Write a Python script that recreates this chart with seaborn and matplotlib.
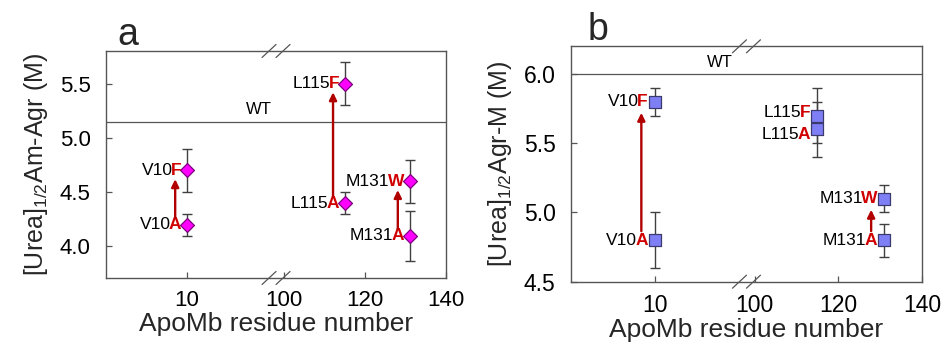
import numpy as np
import matplotlib
matplotlib.use("Agg")
import matplotlib.pyplot as plt
from matplotlib.lines import Line2D
import seaborn as sns
import pandas as pd

# ---------------- data ----------------
residues = [10, 10, 115, 115, 131, 131]
wild = ["V10", "V10", "L115", "L115", "M131", "M131"]
mutant = ["A", "F", "A", "F", "A", "W"]
am_agr = [4.2, 4.7, 4.4, 5.5, 4.1, 4.6]
am_agr_err = [0.1, 0.2, 0.1, 0.2, 0.23, 0.2]
agr_m = [4.8, 5.8, 5.6, 5.7, 4.8, 5.1]
agr_m_err = [0.2, 0.1, 0.2, 0.2, 0.12, 0.1]
wt_am_agr = 5.15
wt_agr_m = 6.0
arrows_a = ["V10", "L115", "M131"]
arrows_b = ["V10", "M131"]
xticks = [10, 100, 120, 140]
yticks_a = [4.0, 4.5, 5.0, 5.5]
yticks_b = [4.5, 5.0, 5.5, 6.0]

sns.set_theme(style="white")
plt.rcParams["font.family"] = ["Liberation Sans", "DejaVu Sans"]
plt.rcParams["mathtext.fontset"] = "custom"
plt.rcParams["mathtext.rm"] = "Liberation Sans"
plt.rcParams["mathtext.it"] = "Liberation Sans:italic"
plt.rcParams["mathtext.bf"] = "Liberation Sans:bold"

DPI = 100
fig = plt.figure(figsize=(9.45, 3.44), dpi=DPI)


# broken x axis: compress the 30..100 gap
def fwd(x):
    return np.interp(x, [-1000, 30, 100, 1000], [-1000, 30, 34, 934])


def inv(y):
    return np.interp(y, [-1000, 30, 34, 934], [-1000, 30, 100, 1000])


SPINE = "#555555"
ARROW = "#b00000"
RED = "#d00000"


def draw_break(ax):
    pos = ax.get_position()
    wpx = pos.width * fig.get_figwidth() * DPI
    hpx = pos.height * fig.get_figheight() * DPI
    dx, dy = 7 / wpx, 6.5 / hpx
    for yy in (0.0, 1.0):
        for cx in (0.5 - 7 / wpx, 0.5 + 7 / wpx):
            ax.add_line(Line2D([cx - dx, cx + dx], [yy - dy, yy + dy],
                               transform=ax.transAxes, color=SPINE, lw=0.9,
                               clip_on=False, zorder=5))


def panel(rect, vals, errs, wt, yticks, ylim, marker, fc, ec, ms, ylabel,
          tick_fs, wt_x, letter, letter_xy, label_off, label_dy, arrows,
          ylabel_fs, xlabel_fs):
    ax = fig.add_axes(rect)
    ax.set_xscale("function", functions=(fwd, inv))
    df = pd.DataFrame({"residue": residues, "value": vals})
    ax.errorbar(residues, vals, yerr=errs, fmt="none", ecolor="#404040",
                elinewidth=1, capsize=3.5, capthick=1, zorder=2)
    sns.scatterplot(data=df, x="residue", y="value", marker=marker, s=ms,
                    color=fc, edgecolor=ec, linewidth=0.9, ax=ax, zorder=3,
                    legend=False)
    ax.axhline(wt, color=SPINE, lw=0.9, zorder=1)
    ax.annotate("WT", xy=(wt_x, wt), xycoords=("axes fraction", "data"),
                xytext=(0, 3), textcoords="offset points", ha="center",
                va="bottom", fontsize=12, color="black")
    reds = []
    for x, y, w, m, dy in zip(residues, vals, wild, mutant, label_dy):
        r = ax.annotate(m, xy=(x, y), xytext=(label_off, dy),
                        textcoords="offset points", ha="right", va="center",
                        color=RED, fontweight="bold", fontsize=12.5)
        ax.annotate(w, xy=(0, 0.5), xycoords=r, xytext=(1.2, 0),
                    textcoords="offset points", ha="right", va="center",
                    fontsize=12.5, color="black")
        reds.append(r)
    # arrows from the A mutant to the other mutant at the same residue
    for i in range(0, len(residues), 2):
        if wild[i] not in arrows:
            continue
        lo, hi = vals[i], vals[i + 1]
        ax.annotate("", xy=(0.5, hi - 0.08), xycoords=(reds[i], "data"),
                    xytext=(0.5, lo + 0.065), textcoords=(reds[i], "data"),
                    arrowprops=dict(arrowstyle="-|>,head_length=0.45,head_width=0.22",
                                    color=ARROW, lw=1.7, mutation_scale=10,
                                    shrinkA=0, shrinkB=0))
    ax.set_xlim(-10, 140)
    ax.set_ylim(*ylim)
    ax.set_xticks(xticks)
    ax.set_xticklabels([str(t) for t in xticks], fontsize=tick_fs)
    ax.xaxis.set_minor_locator(matplotlib.ticker.NullLocator())
    ax.set_yticks(yticks)
    ax.set_yticklabels([f"{t:.1f}" for t in yticks], fontsize=tick_fs)
    ax.tick_params(axis="both", direction="in", length=4, width=0.9,
                   color=SPINE, pad=11, labelcolor="black")
    ax.tick_params(axis="x", bottom=True, pad=9)
    ax.tick_params(axis="y", left=True)
    for s in ax.spines.values():
        s.set_color(SPINE)
        s.set_linewidth(1.0)
        s.set_visible(True)
    ax.set_xlabel("ApoMb residue number", fontsize=xlabel_fs, labelpad=0.5)
    ax.set_ylabel(ylabel, fontsize=ylabel_fs, labelpad=7)
    ax.grid(False)
    draw_break(ax)
    fig.text(letter_xy[0], letter_xy[1], letter, fontsize=27, ha="left",
             va="baseline")
    return ax


panel([0.1122, 0.1919, 0.3598, 0.6599], am_agr, am_agr_err, wt_am_agr,
      yticks_a, (3.71, 5.8), "D", "#ff00ff", "#800080", 50,
      r"[Urea]$_{\mathrm{1/2}}$Am-Agr (M)", 16, 0.45, "a", (0.124, 0.868),
      -4, [0, 0, 0, 0, 0, 0], arrows_a, 18, 19)

panel([0.6042, 0.1811, 0.3714, 0.6843], agr_m, agr_m_err, wt_agr_m,
      yticks_b, (4.5, 6.2), "s", "#7f7ff5", "#3a3a6e", 64,
      r"[Urea]$_{\mathrm{1/2}}$Agr-M (M)", 16.5, 0.424, "b", (0.622, 0.884),
      -5, [0, 0, -3.5, 2.5, 0, 0], arrows_b, 18, 19)

fig.savefig("out.png", dpi=DPI)
